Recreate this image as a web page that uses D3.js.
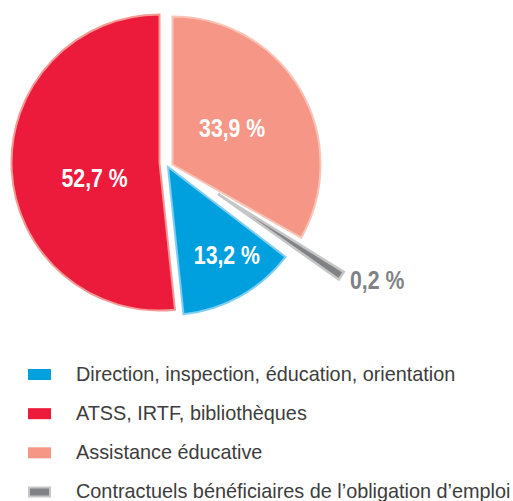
<!DOCTYPE html>
<html>
<head>
<meta charset="utf-8">
<script src="https://cdn.jsdelivr.net/npm/d3@7"></script>
<style>
  body { margin: 0; background: #fff; }
  svg { display: block; font-family: "Liberation Sans", Arial, sans-serif; }
</style>
</head>
<body>
<svg id="chart"></svg>
<script>
// slice order, clockwise from 12 o'clock
const categories = [
  "Assistance éducative",
  "Contractuels bénéficiaires de l’obligation d’emploi",
  "Direction, inspection, éducation, orientation",
  "ATSS, IRTF, bibliothèques",
];
const values = [33.9, 0.2, 13.2, 52.7];
const labels = ["33,9 %", "0,2 %", "13,2 %", "52,7 %"];
const fills = ["#f59686", "#808285", "#00a0df", "#ed1b3b"];
const strokes = ["#fbc3b6", "#c6c6c6", "#7fcdf0", "#f39a94"];
// legend order
const legendOrder = [2, 3, 0, 1];

const width = 513, height = 501;
const cx = 166, cy = 164.5, radius = 148;
// pull-out of each slice (x, y)
const explode = [[6.5, 0], [52, 29.5], [2, 2.5], [-6.5, -2]];
const labelRadius = [69, 150, 103, 65];
const labelNudge = [[0, -2], [7, 3], [8.5, -2], [0, 12]];
// tiny slices get some room in the layout and a thin visible wedge
const minShare = 2.2;
const thinWedge = 0.062;
const condense = 0.85;

const svg = d3.select("#chart").attr("width", width).attr("height", height);

const pie = d3.pie().sort(null).value((d) => Math.max(d, minShare));
const arcs = pie(values).map((a) => {
  const mid = (a.startAngle + a.endAngle) / 2;
  if (a.data < minShare) {
    return { ...a, startAngle: mid - thinWedge / 2, endAngle: mid + thinWedge / 2, mid };
  }
  return { ...a, mid };
});

const arc = d3.arc().innerRadius(0).outerRadius(radius);

const g = svg.append("g").attr("transform", `translate(${cx},${cy})`);

const slice = g
  .selectAll("g.slice")
  .data(arcs)
  .enter()
  .append("g")
  .attr("class", "slice")
  .attr("transform", (d, i) => `translate(${explode[i][0]},${explode[i][1]})`);

slice
  .append("path")
  .attr("d", arc)
  .attr("fill", (d, i) => fills[i])
  .attr("stroke", (d, i) => strokes[i])
  .attr("stroke-width", (d, i) => (i === 1 ? 2.5 : 2))
  .attr("stroke-linejoin", "miter");

slice
  .append("text")
  .attr("transform", (d, i) => {
    const x = Math.sin(d.mid) * labelRadius[i] + labelNudge[i][0];
    const y = -Math.cos(d.mid) * labelRadius[i] + labelNudge[i][1];
    return `translate(${x},${y}) scale(${condense},1)`;
  })
  .attr("dy", "0.36em")
  .attr("text-anchor", (d, i) => (i === 1 ? "start" : "middle"))
  .attr("font-weight", "bold")
  .attr("font-size", 25)
  .attr("fill", (d, i) => (i === 1 ? "#808285" : "#ffffff"))
  .text((d, i) => labels[i]);

// legend
const yLegend = d3.scalePoint().domain(d3.range(legendOrder.length)).range([374.5, 492]);

const legend = svg
  .selectAll("g.legend")
  .data(legendOrder)
  .enter()
  .append("g")
  .attr("class", "legend")
  .attr("transform", (d, i) => `translate(0,${yLegend(i)})`);

legend
  .append("rect")
  .attr("x", (d) => (d === 1 ? 29 : 28))
  .attr("y", (d) => (d === 1 ? -4.5 : -5.5))
  .attr("width", (d) => (d === 1 ? 21 : 23))
  .attr("height", (d) => (d === 1 ? 9 : 11))
  .attr("fill", (d) => fills[d])
  .attr("stroke", (d) => (d === 1 ? strokes[d] : "none"))
  .attr("stroke-width", 2);

legend
  .append("text")
  .attr("transform", "translate(76,0) scale(0.945,1)")
  .attr("dy", "0.3em")
  .attr("font-size", 21)
  .attr("fill", "#3d3d3d")
  .text((d) => categories[d]);
</script>
</body>
</html>
